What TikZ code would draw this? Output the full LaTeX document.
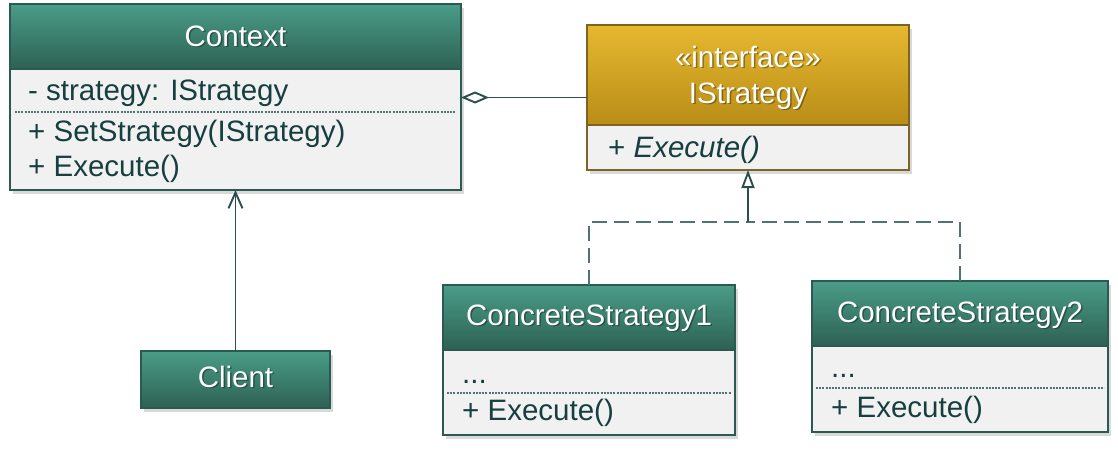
\documentclass[tikz,border=0pt]{standalone}
\usepackage{fontspec}
\setmainfont{Liberation Sans}
\usetikzlibrary{arrows.meta,shadows,calc}
\definecolor{tealtop}{HTML}{4A9C88}
\definecolor{tealbot}{HTML}{2D6153}
\definecolor{goldtop}{HTML}{E6B830}
\definecolor{goldbot}{HTML}{B98D17}
\definecolor{bodyfill}{HTML}{F1F1F1}
\definecolor{tealborder}{HTML}{2B5B50}
\definecolor{goldborder}{HTML}{7D6421}
\definecolor{txt}{HTML}{173F3F}
\definecolor{conn}{HTML}{2B4F4F}
\definecolor{dashc}{HTML}{4F7373}
\newcommand\hdrfont{\fontsize{29.5}{34}\selectfont}
\newcommand\memfont{\fontsize{29.5}{34}\selectfont}
\tikzset{
  classbox/.style={rectangle, inner sep=0pt, outer sep=0pt, anchor=north west, fill=bodyfill,
    drop shadow={opacity=0.3, shadow xshift=3pt, shadow yshift=-4pt}},
  tealhead/.style={top color=tealtop, bottom color=tealbot},
  goldhead/.style={top color=goldtop, bottom color=goldbot},
  tealedge/.style={draw=tealborder, line width=1.9pt},
  goldedge/.style={draw=goldborder, line width=1.9pt},
  sepline/.style={draw=dashc, line width=1.2pt, dash pattern=on 2pt off 1.2pt},
  hdr/.style={text=white, font=\hdrfont, inner sep=0pt, anchor=base},
  hdrsh/.style={text=black, opacity=0.35, font=\hdrfont, inner sep=0pt, anchor=base},
  mem/.style={text=txt, font=\memfont, inner sep=0pt, anchor=base west},
  conline/.style={draw=conn, line width=1.9pt},
  dashline/.style={draw=dashc, line width=1.9pt, dash pattern=on 15pt off 7pt},
}
\begin{document}
\begin{tikzpicture}[x=1pt,y=-1pt]
\useasboundingbox (0,0) rectangle (1118,450);
% ---------- Context ----------
\node[classbox, minimum width=451pt, minimum height=186pt] (ctx) at (10,4) {};
\shade[tealhead] (10,4) rectangle (461,69);
\draw[tealedge] (10,69) -- (461,69);
\draw[tealedge] (10,4) rectangle (461,190);
\node[hdrsh] (ctxts) at (237,47.5) {Context};
\node[hdr] (ctxt) at (235.5,46) {Context};
\node[mem] (ctxa) at (28,100) {- strategy: IStrategy};
\draw[sepline] (15,112) -- (456,112);
\node[mem] (ctxm1) at (28,141) {+ SetStrategy(IStrategy)};
\node[mem] (ctxm2) at (28,176) {+ Execute()};
% ---------- IStrategy ----------
\node[classbox, minimum width=322pt, minimum height=145pt] (istr) at (587,25) {};
\shade[goldhead] (587,25) rectangle (909,125);
\draw[goldedge] (587,125) -- (909,125);
\draw[goldedge] (587,25) rectangle (909,170);
\node[hdrsh] (istrs1) at (749.5,68.5) {«interface»};
\node[hdr] (istr1) at (748,67) {«interface»};
\node[hdrsh] (istrs2) at (749.5,104.5) {IStrategy};
\node[hdr] (istr2) at (748,103) {IStrategy};
\node[mem] (istrm) at (608,157) {+ \textit{Execute()}};
% ---------- ConcreteStrategy1 ----------
\node[classbox, minimum width=292pt, minimum height=150pt] (cs1) at (443,285) {};
\shade[tealhead] (443,285) rectangle (735,350);
\draw[tealedge] (443,350) -- (735,350);
\draw[tealedge] (443,285) rectangle (735,435);
\node[hdrsh] (cs1ts) at (590.5,326.5) {ConcreteStrategy1};
\node[hdr] (cs1t) at (589,325) {ConcreteStrategy1};
\node[mem] (cs1a) at (462,383) {...};
\draw[sepline] (447,393) -- (731,393);
\node[mem] (cs1m) at (462,420) {+ Execute()};
% ---------- ConcreteStrategy2 ----------
\node[classbox, minimum width=296pt, minimum height=151pt] (cs2) at (812,281) {};
\shade[tealhead] (812,281) rectangle (1108,346);
\draw[tealedge] (812,346) -- (1108,346);
\draw[tealedge] (812,281) rectangle (1108,432);
\node[hdrsh] (cs2ts) at (961.5,323.5) {ConcreteStrategy2};
\node[hdr] (cs2t) at (960,322) {ConcreteStrategy2};
\node[mem] (cs2a) at (831,377) {...};
\draw[sepline] (816,388) -- (1104,388);
\node[mem] (cs2m) at (831,417) {+ Execute()};
% ---------- Client ----------
\node[classbox, minimum width=189pt, minimum height=57pt] (client) at (141,351) {};
\shade[tealhead] (141,351) rectangle (330,408);
\draw[tealedge] (141,351) rectangle (330,408);
\node[hdrsh] (clts) at (237,388.5) {Client};
\node[hdr] (clt) at (235.5,387) {Client};
% ---------- connectors ----------
\draw[conline, -{Diamond[length=28pt,width=12pt,fill=white,line width=1.9pt]}]
  (istr.west) -- (istr.west -| ctx.east);
\draw[conline, -{Straight Barb[length=16pt,width=14pt,line width=1.9pt]}]
  (client.north) -- (client.north |- ctx.south);
\coordinate (j) at ($(istr.south)+(0,52)$);
\draw[dashline] (cs1.north) |- (j);
\draw[dashline] (cs2.north) |- (j);
\draw[conline, -{Triangle[open,length=18pt,width=13pt,fill=white,line width=1.9pt]}]
  (j) -- (istr.south);
\end{tikzpicture}
\end{document}
